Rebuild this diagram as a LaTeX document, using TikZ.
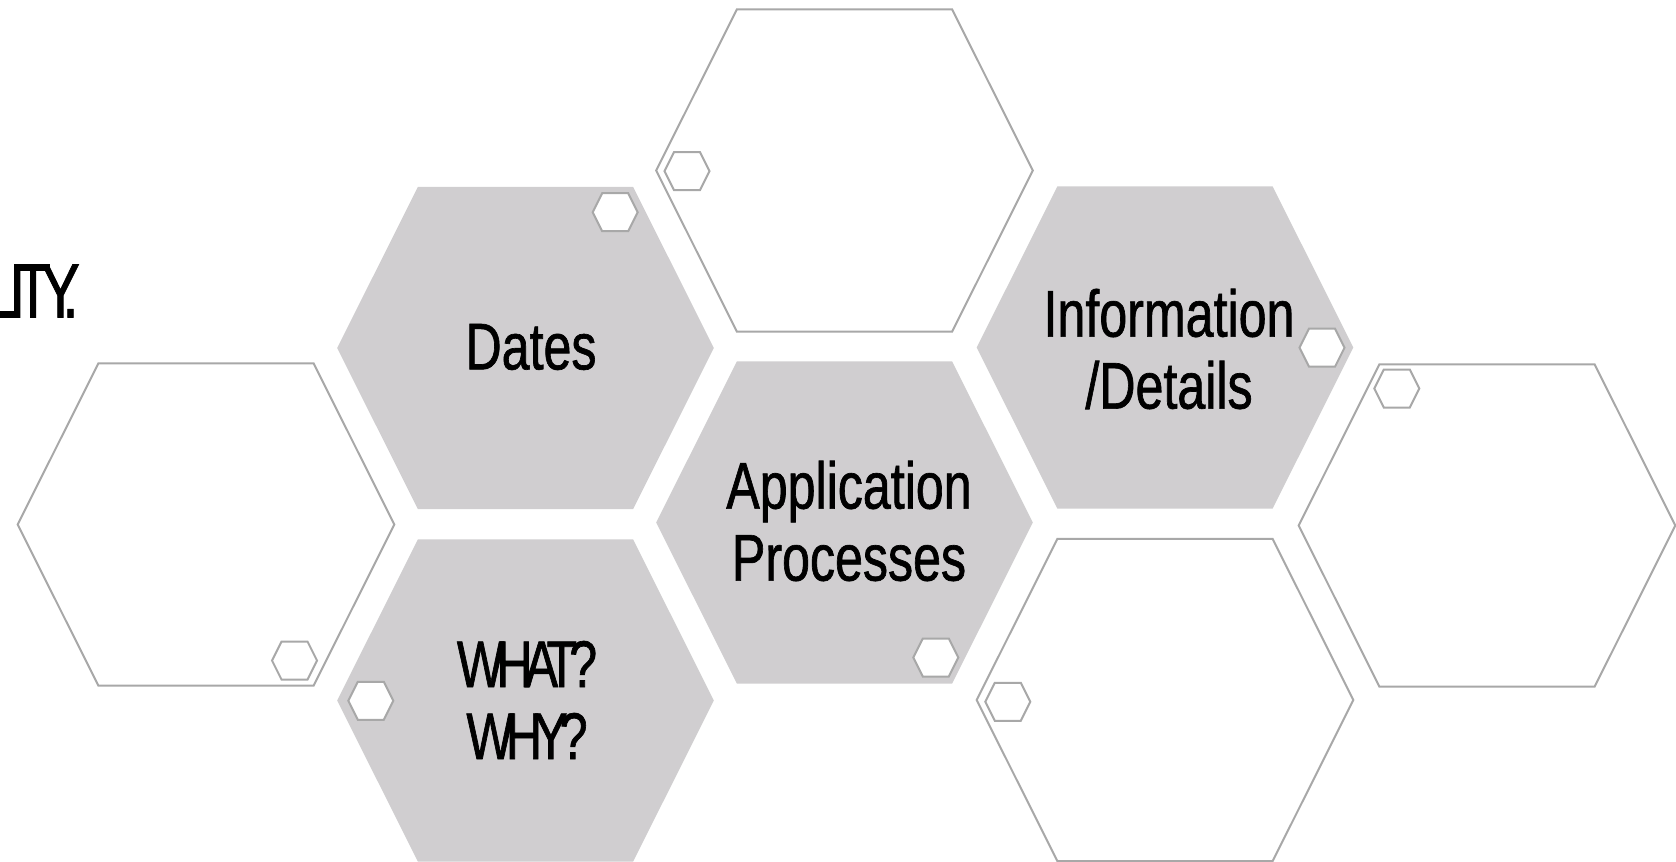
\documentclass[tikz,border=0pt]{standalone}
\usepackage{fontspec}
\setmainfont[FakeStretch=0.76, FakeBold=1]{Liberation Sans}

\definecolor{hexfill}{RGB}{208,206,208}
\definecolor{hexline}{RGB}{168,168,168}

\tikzset{
	pics/bighex/.style={code={
		\path[pic actions] (-188.3,0) -- (-107.6,-161.2) -- (107.6,-161.2) -- (188.3,0) -- (107.6,161.2) -- (-107.6,161.2) -- cycle;}},
	pics/smallhex/.style={code={
		\path[pic actions] (-22.5,0) -- (-13,-19) -- (13,-19) -- (22.5,0) -- (13,19) -- (-13,19) -- cycle;}},
	fullhex/.style={fill=hexfill},
	openhex/.style={draw=hexline, line width=1pt},
	dothex/.style={draw=hexline, fill=white, line width=1pt},
	hextext/.style={align=center, inner sep=0pt, font=\fontsize{33}{36}\selectfont}
}

\begin{document}
\begin{tikzpicture}[x=0.5pt, y=-0.5pt]
	\useasboundingbox (0,0) rectangle (1676,862);

		\pic[fullhex] at (525.5,348) {bighex};
		\pic[fullhex] at (525.5,700.5) {bighex};
		\pic[fullhex] at (844.5,522.5) {bighex};
		\pic[fullhex] at (1165,347.5) {bighex};

		\pic[openhex] at (206,524.5) {bighex};
		\pic[openhex] at (844.5,170.5) {bighex};
		\pic[openhex] at (1165,700) {bighex};
		\pic[openhex] at (1487,525.5) {bighex};

		\pic[dothex] at (615.2,212.2) {smallhex};
		\pic[dothex] at (687,171.2) {smallhex};
		\pic[dothex] at (1322,347.7) {smallhex};
		\pic[dothex] at (1396.8,388.5) {smallhex};
		\pic[dothex] at (294.5,660.5) {smallhex};
		\pic[dothex] at (370.8,700.8) {smallhex};
		\pic[dothex] at (935.8,657.5) {smallhex};
		\pic[dothex] at (1007.8,701.8) {smallhex};

		\node[hextext] (dates) at (531,347) {Dates};
		\node[hextext] (info) at (1169,349) {Information\\/Details};
		\node[hextext] (appl) at (849,521) {Application\\Processes};
		\node[hextext, font=\fontsize{33}{36}\selectfont\addfontfeature{LetterSpace=-12}] (whatwhy) at (527,700) {WHAT?\\WHY?};
		\node[anchor=east, inner sep=0pt, font=\fontsize{38.4}{40}\selectfont\addfontfeature{LetterSpace=-13}] (tail) at (79,291) {LITY.};
	\end{tikzpicture}
\end{document}
